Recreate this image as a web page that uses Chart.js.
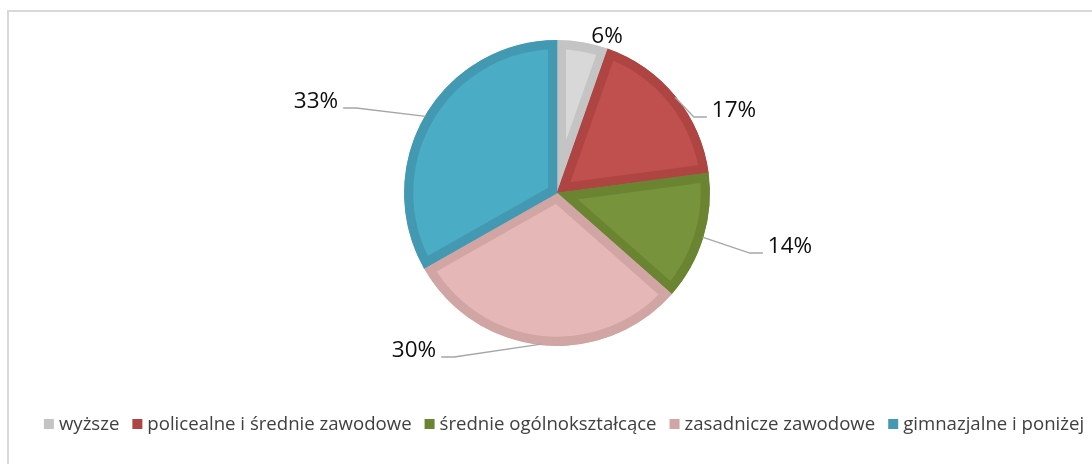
<!DOCTYPE html>
<html>
<head>
<meta charset="utf-8">
<script src="https://cdn.jsdelivr.net/npm/chart.js@4.4.1/dist/chart.umd.min.js"></script>
<style>
	body { margin: 0; background: #fff; }
	#frame { position: absolute; left: 7px; top: 10px; width: 1110px; height: 480px; border: 2px solid #d9d9d9; box-sizing: border-box; }
	#wrap { position: absolute; left: 0; top: 0; width: 1092px; height: 464px; }
</style>
</head>
<body>
<div id="frame"></div>
<div id="wrap"><canvas id="pieChart"></canvas></div>
<script>
// values (slice angles), shown labels as printed
const categories = ['wyższe', 'policealne i średnie zawodowe', 'średnie ogólnokształcące', 'zasadnicze zawodowe', 'gimnazjalne i poniżej'];
const shares = [5.4, 17.5, 13.6, 30.3, 33.2];
const shareLabels = ['6%', '17%', '14%', '30%', '33%'];

const fillColors = ['#d8d8d8', '#c0504d', '#77933c', '#e5b8b7', '#4bacc6'];
const edgeColors = ['#c4c4c4', '#ae4542', '#6b8432', '#d2a5a5', '#4499b2'];

// label text position relative to the pie centre (text centre x, baseline y)
const labelPlacement = [
	{ dx: 50, dy: -150, line: false },
	{ dx: 177, dy: -76, line: true },
	{ dx: 233, dy: 60, line: true },
	{ dx: -143, dy: 164, line: true },
	{ dx: -241, dy: -85, line: true }
];

const labelPlugin = {
	id: 'sliceLabels',
	afterDatasetsDraw(chart) {
		const ctx = chart.ctx;
		const arcs = chart.getDatasetMeta(0).data;
		ctx.save();
		ctx.font = '22.5px "Open Sans"';
		ctx.textBaseline = 'alphabetic';
		ctx.fillStyle = '#0d0d0d';
		arcs.forEach((arc, i) => {
			const p = labelPlacement[i];
			const text = shareLabels[i];
			const w = ctx.measureText(text).width;
			const tx = arc.x + p.dx;
			const ty = arc.y + p.dy;
			ctx.textAlign = 'center';
			ctx.fillText(text, tx, ty);
			if (!p.line) return;
			const mid = (arc.startAngle + arc.endAngle) / 2;
			const ax = arc.x + Math.cos(mid) * (arc.outerRadius - 1);
			const ay = arc.y + Math.sin(mid) * (arc.outerRadius - 1);
			const side = p.dx > 0 ? -1 : 1;
			const endX = tx + side * (w / 2 + 5);
			const elbowX = endX + side * 13;
			ctx.beginPath();
			ctx.moveTo(ax, ay);
			ctx.lineTo(elbowX, ty);
			ctx.lineTo(endX, ty);
			ctx.strokeStyle = '#a6a6a6';
			ctx.lineWidth = 1.3;
			ctx.stroke();
		});
		ctx.restore();
	}
};

const legendPlugin = {
	id: 'rowLegend',
	afterDraw(chart) {
		const ctx = chart.ctx;
		const centerX = 564;
		const centerY = 424;
		const box = 10;
		const gap = 5;
		const spacing = 13;
		ctx.save();
		ctx.font = '18.6px "Open Sans"';
		ctx.textBaseline = 'middle';
		ctx.textAlign = 'left';
		let total = 0;
		const widths = categories.map(c => ctx.measureText(c).width);
		widths.forEach((w, i) => {
			total += box + gap + w + (i < widths.length - 1 ? spacing : 0);
		});
		let x = centerX - total / 2;
		categories.forEach((c, i) => {
			ctx.fillStyle = edgeColors[i];
			ctx.fillRect(x, centerY - box / 2, box, box);
			ctx.fillStyle = '#404040';
			ctx.fillText(c, x + box + gap, centerY + 1);
			x += box + gap + widths[i] + spacing;
		});
		ctx.restore();
	}
};

let context = document.getElementById('pieChart').getContext('2d');

let data = {
	labels: categories,
	datasets: [{
		data: shares,
		backgroundColor: fillColors,
		borderColor: edgeColors,
		borderWidth: 9,
		borderAlign: 'inner',
		borderJoinStyle: 'miter',
		hoverOffset: 0,
		radius: 153
	}]
};

let config = {
	type: 'pie',
	data: data,
	options: {
		responsive: true,
		maintainAspectRatio: false,
		animation: false,
		events: [],
		layout: {
			padding: { left: 22, right: 0, top: 0, bottom: 78 }
		},
		plugins: {
			legend: { display: false },
			tooltip: { enabled: false }
		}
	},
	plugins: [labelPlugin, legendPlugin]
};

let chart = new Chart(context, config);
</script>
</body>
</html>
